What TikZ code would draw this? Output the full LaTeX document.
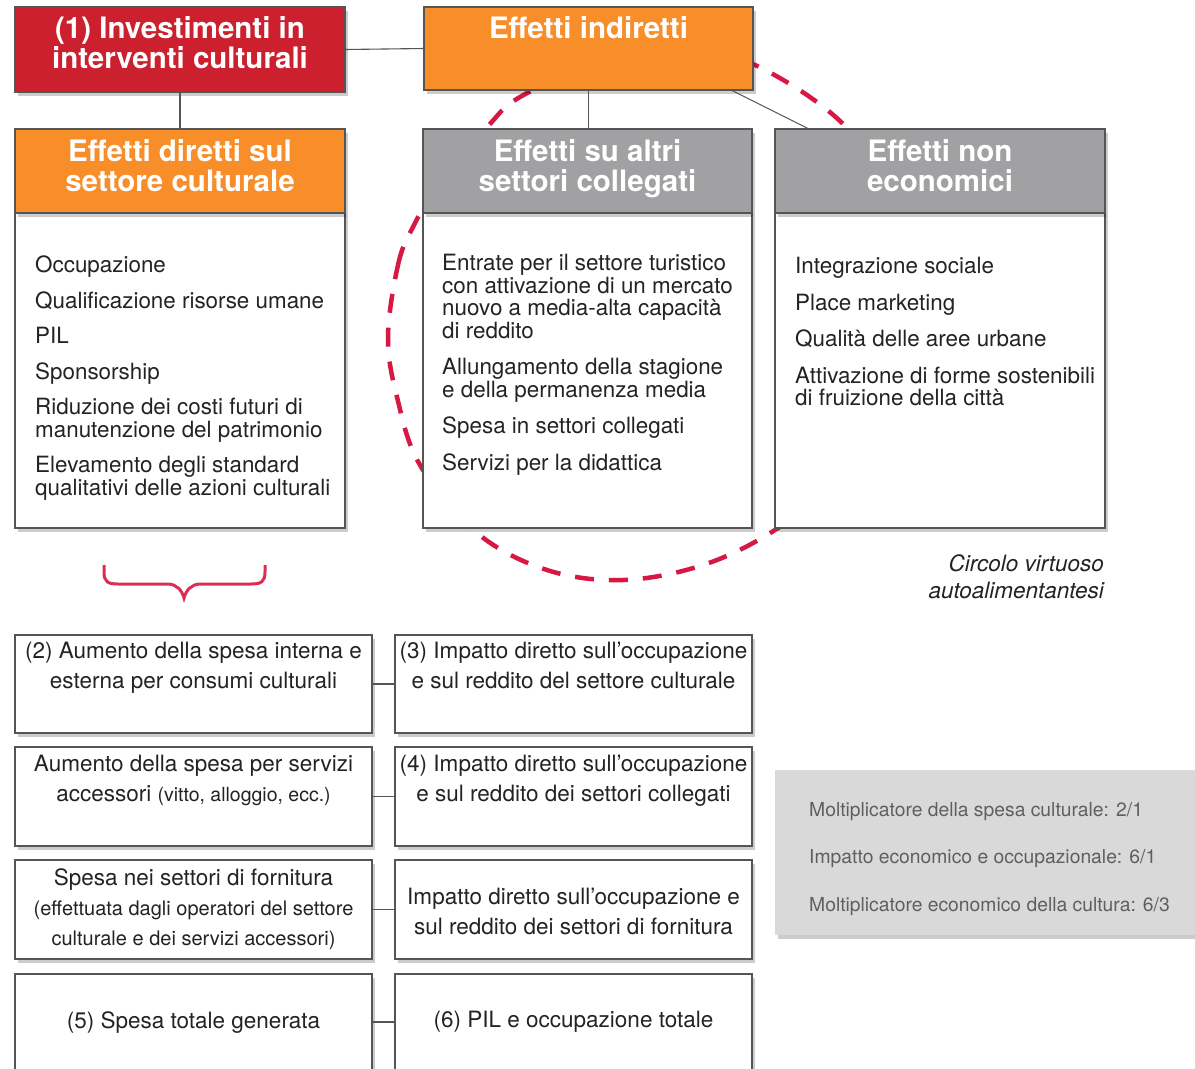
\documentclass[tikz,border=0pt]{standalone}
\usepackage{fontspec}
\setmainfont{TeX Gyre Heros}
\usetikzlibrary{shadows}
\definecolor{cRed}{RGB}{204,32,46}
\definecolor{cOrange}{RGB}{247,142,42}
\definecolor{cHead}{RGB}{161,161,164}
\definecolor{cStat}{RGB}{217,217,217}
\definecolor{cDash}{RGB}{214,24,66}
\definecolor{cBrace}{RGB}{222,45,85}
\definecolor{cLine}{RGB}{85,85,85}
\definecolor{cText}{RGB}{35,35,35}
\definecolor{cStatText}{RGB}{95,95,95}
\begin{document}
\begin{tikzpicture}[x=1pt,y=-1pt,
  boxbase/.style={draw=cLine, line width=1.2pt, inner sep=0pt, outer sep=0pt, anchor=north west},
  shadowed/.style={drop shadow={shadow xshift=3pt, shadow yshift=-4pt, opacity=0.2, fill=black}},
  headtext/.style={anchor=north, inner sep=0pt, align=center, text=white, font=\fontsize{29.5}{30}\selectfont\bfseries},
  listtext/.style={anchor=north west, inner sep=0pt, align=left, text=cText, font=\fontsize{22.4}{22.5}\selectfont},
  lowtext/.style={anchor=north, inner sep=0pt, align=center, text=cText, font=\fontsize{22.5}{30}\selectfont},
  stattext/.style={anchor=base west, inner sep=0pt, text=cStatText, font=\fontsize{19.3}{22}\selectfont},
  conn/.style={draw=cLine, line width=1.1pt},
  smalltext/.style={font=\fontsize{20}{30}\selectfont}
]
\fill[white] (0,0) rectangle (1195,1069);
\useasboundingbox (0,0) rectangle (1195,1069);

% dashed virtuous circle
\draw[cDash, line width=4.5pt, dash pattern=on 19pt off 15pt]
  plot[smooth cycle, tension=0.6] coordinates {
   (388,337) (398,265) (413,227) (445,172) (487,127) (520,97) (600,62) (680,50)
   (755,65) (847,128) (890,210) (905,300) (890,400) (845,475) (775,530)
   (703,565) (623,580) (547,570) (477,533) (420,465) (397,397)};

% top boxes
\node[boxbase, fill=cRed, shadowed, minimum width=330pt, minimum height=85pt] (inv) at (15,7) {};
\node[headtext] (invT) at ([yshift=-9pt]inv.north) {(1) Investimenti in\\interventi culturali};
\node[boxbase, fill=cOrange, shadowed, minimum width=329pt, minimum height=83pt] (ind) at (424,7) {};
\node[headtext] (indT) at ([yshift=-9pt]ind.north) {Effetti indiretti};

% columns
\node[boxbase, fill=white, shadowed, minimum width=330pt, minimum height=315pt] (bdL) at (15,213) {};
\node[boxbase, fill=cOrange, shadowed, minimum width=330pt, minimum height=84pt] (hdL) at (15,129) {};
\node[headtext] (hdLT) at ([yshift=-10pt]hdL.north) {Effetti diretti sul\\settore culturale};

\node[boxbase, fill=white, shadowed, minimum width=329pt, minimum height=315pt] (bdM) at (423,213) {};
\node[boxbase, fill=cHead, shadowed, minimum width=329pt, minimum height=84pt] (hdM) at (423,129) {};
\node[headtext] (hdMT) at ([yshift=-10pt]hdM.north) {Effetti su altri\\settori collegati};

\node[boxbase, fill=white, shadowed, minimum width=330pt, minimum height=315pt] (bdR) at (775,213) {};
\node[boxbase, fill=cHead, shadowed, minimum width=330pt, minimum height=84pt] (hdR) at (775,129) {};
\node[headtext] (hdRT) at ([yshift=-10pt]hdR.north) {Effetti non\\economici};

% connectors top
\draw[conn] (inv.east) -- (ind.west);
\draw[conn] (inv.south) -- (hdL.north);
\draw[conn] (ind.south) -- (ind.south |- hdM.north);
\draw[conn] ([xshift=-22pt]ind.south east) -- ([xshift=34pt]hdR.north west);

% lists
\node[listtext] (lstL) at (35,256) {Occupazione\\[13pt]Qualificazione risorse umane\\[13pt]PIL\\[13pt]Sponsorship\\[13pt]Riduzione dei costi futuri di\\manutenzione del patrimonio\\[13pt]Elevamento degli standard\\qualitativi delle azioni culturali};
\node[listtext] (lstM) at (442,254) {Entrate per il settore turistico\\con attivazione di un mercato\\nuovo a media-alta capacità\\di reddito\\[14pt]Allungamento della stagione\\e della permanenza media\\[14pt]Spesa in settori collegati\\[14pt]Servizi per la didattica};
\node[listtext] (lstR) at (795,257) {Integrazione sociale\\[14pt]Place marketing\\[14pt]Qualità delle aree urbane\\[14pt]Attivazione di forme sostenibili\\di fruizione della città};

\node[anchor=north east, inner sep=0pt, align=right, text=cText, font=\fontsize{22.5}{27}\selectfont\itshape] (circ) at (1104,554) {Circolo virtuoso\\autoalimentantesi};

% brace
\draw[cBrace, line width=3pt] (104,565) -- (104,572) .. controls (104,582) and (108,584) .. (118,584) -- (168,584) .. controls (176,584) and (182,590) .. (184,598) .. controls (186,590) and (192,584) .. (200,584) -- (251,584) .. controls (261,584) and (265,582) .. (265,572) -- (265,565);

% bottom rows
\node[boxbase, fill=white, shadowed, minimum width=357pt, minimum height=98pt] (r1L) at (15,635) {};
\node[boxbase, fill=white, shadowed, minimum width=357pt, minimum height=98pt] (r1R) at (395,635) {};
\node[boxbase, fill=white, shadowed, minimum width=357pt, minimum height=99pt] (r2L) at (15,747) {};
\node[boxbase, fill=white, shadowed, minimum width=357pt, minimum height=99pt] (r2R) at (395,747) {};
\node[boxbase, fill=white, shadowed, minimum width=357pt, minimum height=99pt] (r3L) at (15,860) {};
\node[boxbase, fill=white, shadowed, minimum width=357pt, minimum height=99pt] (r3R) at (395,860) {};
\node[boxbase, fill=white, shadowed, minimum width=357pt, minimum height=96pt] (r4L) at (15,974) {};
\node[boxbase, fill=white, shadowed, minimum width=357pt, minimum height=96pt] (r4R) at (395,974) {};

\draw[conn] (r1L.east) -- (r1R.west);
\draw[conn] (r2L.east) -- (r2R.west);
\draw[conn] (r3L.east) -- (r3R.west);
\draw[conn] (r4L.east) -- (r4R.west);

\node[lowtext] (t1L) at ([yshift=-7pt]r1L.north) {(2) Aumento della spesa interna e\\esterna per consumi culturali};
\node[lowtext] (t1R) at ([yshift=-7pt]r1R.north) {(3) Impatto diretto sull’occupazione\\e sul reddito del settore culturale};
\node[lowtext] (t2L) at ([yshift=-8pt]r2L.north) {Aumento della spesa per servizi\\accessori {\fontsize{19.5}{30}\selectfont(vitto, alloggio, ecc.)}};
\node[lowtext] (t2R) at ([yshift=-8pt]r2R.north) {(4) Impatto diretto sull’occupazione\\e sul reddito dei settori collegati};
\node[lowtext] (t3L) at ([yshift=-8pt]r3L.north) {Spesa nei settori di fornitura\\{\fontsize{20}{30}\selectfont(effettuata dagli operatori del settore}\\{\fontsize{20}{30}\selectfont culturale e dei servizi accessori)}};
\node[lowtext] (t3R) at ([yshift=-28pt]r3R.north) {Impatto diretto sull’occupazione e\\sul reddito dei settori di fornitura};
\node[lowtext] (t4L) at ([yshift=-37pt]r4L.north) {(5) Spesa totale generata};
\node[lowtext] (t4R) at ([yshift=-37pt]r4R.north) {(6) PIL e occupazione totale};

% stats box
\node[anchor=north west, inner sep=0pt, fill=cStat, shadowed, minimum width=425pt, minimum height=165pt] (stat) at (775,770) {};
\node[stattext] (s1) at (809,816) {Moltiplicatore della spesa culturale: 2/1};
\node[stattext] (s2) at (809,863) {Impatto economico e occupazionale: 6/1};
\node[stattext] (s3) at (809,911) {Moltiplicatore economico della cultura: 6/3};
\end{tikzpicture}
\end{document}
